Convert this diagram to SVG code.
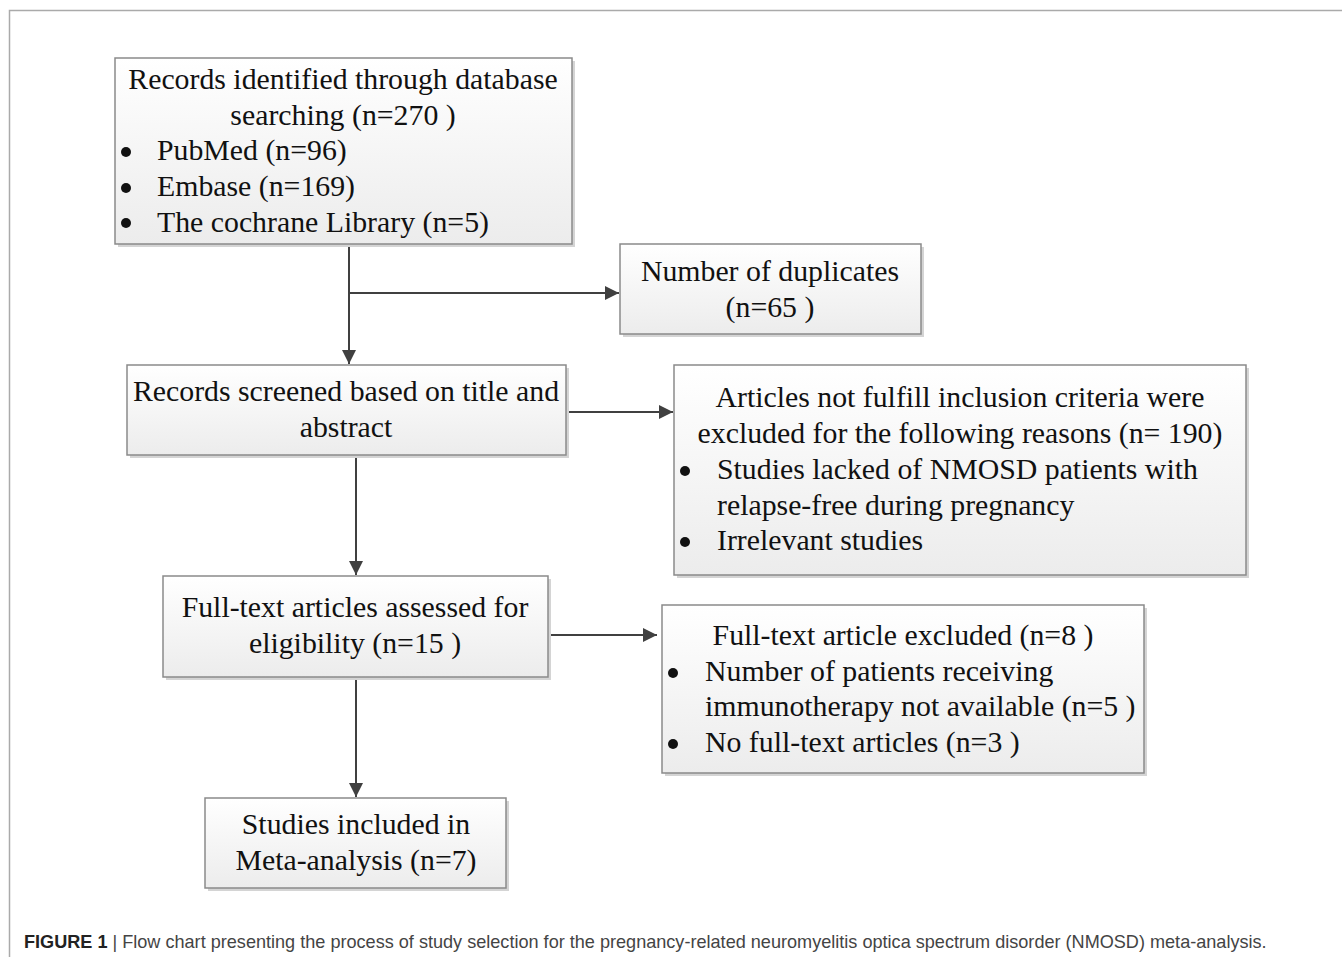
<svg xmlns="http://www.w3.org/2000/svg" width="1342" height="957" viewBox="0 0 1342 957">
<defs>
<linearGradient id="g" x1="0" y1="0" x2="0" y2="1">
<stop offset="0" stop-color="#ffffff"/>
<stop offset="1" stop-color="#ececec"/>
</linearGradient>
<marker id="a" viewBox="0 0 10 10" refX="10" refY="5" markerWidth="14" markerHeight="14" markerUnits="userSpaceOnUse" orient="auto">
<path d="M0,0 L10,5 L0,10 z" fill="#404040"/>
</marker>
<style>
.box{fill:url(#g);stroke:#8a8a8a;stroke-width:1.5}
.sh{fill:#d4d4d4}
.t{font-family:"Liberation Serif","Times New Roman",serif;font-size:29.8px;fill:#111}
.c{text-anchor:middle}
.b{fill:#111}
.ln{stroke:#404040;stroke-width:2;fill:none;marker-end:url(#a)}
.cap{font-family:"Liberation Sans",Arial,sans-serif;font-size:18.1px;fill:#444}
</style>
</defs>
<rect width="1342" height="957" fill="#fff"/>
<path d="M9.5,957 V10.5 H1342" fill="none" stroke="#aaa" stroke-width="1.5"/>

<g id="connectors">
<line class="ln" x1="349" y1="245" x2="349" y2="364"/>
<line class="ln" x1="349" y1="293" x2="619" y2="293"/>
<line class="ln" x1="567" y1="412" x2="673" y2="412"/>
<line class="ln" x1="356" y1="456" x2="356" y2="575"/>
<line class="ln" x1="549" y1="635" x2="657" y2="635"/>
<line class="ln" x1="356" y1="678" x2="356" y2="797"/>
</g>

<g id="n1">
<rect class="sh" x="118" y="61" width="457" height="186"/>
<rect class="box" x="115" y="58" width="457" height="186"/>
<text class="t c" x="343" y="89">Records identified through database</text>
<text class="t c" x="343" y="125">searching (n=270 )</text>
<circle class="b" cx="126" cy="152" r="5"/>
<circle class="b" cx="126" cy="188" r="5"/>
<circle class="b" cx="126" cy="223" r="5"/>
<text class="t" x="157" y="160">PubMed (n=96)</text>
<text class="t" x="157" y="196">Embase (n=169)</text>
<text class="t" x="157" y="232">The cochrane Library (n=5)</text>
</g>

<g id="n2">
<rect class="sh" x="623" y="247" width="301" height="90"/>
<rect class="box" x="620" y="244" width="301" height="90"/>
<text class="t c" x="770" y="281">Number of duplicates</text>
<text class="t c" x="770" y="317">(n=65 )</text>
</g>

<g id="n3">
<rect class="sh" x="130" y="368" width="439" height="90"/>
<rect class="box" x="127" y="365" width="439" height="90"/>
<text class="t c" x="346" y="401">Records screened based on title and</text>
<text class="t c" x="346" y="437">abstract</text>
</g>

<g id="n4">
<rect class="sh" x="677" y="368" width="572" height="210"/>
<rect class="box" x="674" y="365" width="572" height="210"/>
<text class="t c" x="960" y="407">Articles not fulfill inclusion criteria were</text>
<text class="t c" x="960" y="443">excluded for the following reasons (n= 190)</text>
<circle class="b" cx="685" cy="471" r="5"/>
<circle class="b" cx="685" cy="542" r="5"/>
<text class="t" x="717" y="479">Studies lacked of NMOSD patients with</text>
<text class="t" x="717" y="515">relapse-free during pregnancy</text>
<text class="t" x="717" y="550">Irrelevant studies</text>
</g>

<g id="n5">
<rect class="sh" x="166" y="579" width="385" height="101"/>
<rect class="box" x="163" y="576" width="385" height="101"/>
<text class="t c" x="355" y="617">Full-text articles assessed for</text>
<text class="t c" x="355" y="653">eligibility (n=15 )</text>
</g>

<g id="n6">
<rect class="sh" x="665" y="608" width="482" height="168"/>
<rect class="box" x="662" y="605" width="482" height="168"/>
<text class="t c" x="903" y="645">Full-text article excluded (n=8 )</text>
<circle class="b" cx="673" cy="673" r="5"/>
<circle class="b" cx="673" cy="744" r="5"/>
<text class="t" x="705" y="681">Number of patients receiving</text>
<text class="t" x="705" y="716">immunotherapy not available (n=5 )</text>
<text class="t" x="705" y="752">No full-text articles (n=3 )</text>
</g>

<g id="n7">
<rect class="sh" x="208" y="801" width="301" height="90"/>
<rect class="box" x="205" y="798" width="301" height="90"/>
<text class="t c" x="356" y="834">Studies included in</text>
<text class="t c" x="356" y="870">Meta-analysis (n=7)</text>
</g>

<text class="cap" x="24" y="948"><tspan font-weight="bold" fill="#222">FIGURE 1</tspan> | Flow chart presenting the process of study selection for the pregnancy-related neuromyelitis optica spectrum disorder (NMOSD) meta-analysis.</text>
</svg>
